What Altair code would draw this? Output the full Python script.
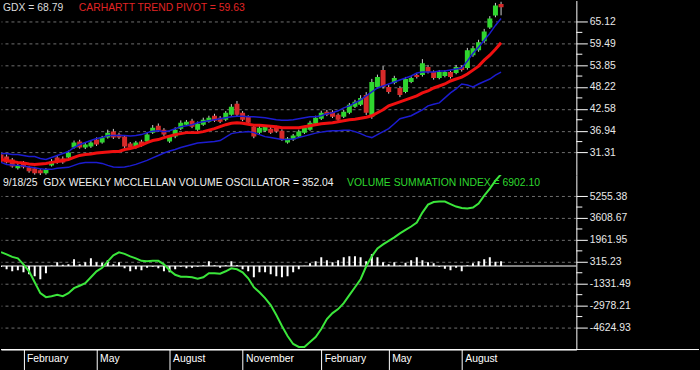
import json
import altair as alt
import pandas as pd

# ---------------- data (weekly, Jan 2024 - Sep 2025) ----------------
weeks = list(range(90))

opens = [30.81, 30.29, 29.52, 27.22, 28.76, 27.48, 27.22, 26.71, 25.94, 27.99,
         30.04, 29.78, 30.04, 32.60, 34.13, 32.60, 32.85, 34.65, 33.88, 35.16,
         36.70, 35.93, 35.41, 33.62, 32.60, 34.13, 34.13, 36.44, 38.23, 37.21,
         34.13, 35.41, 37.46, 38.49, 39.51, 37.21, 38.49, 39.26, 40.79, 40.28,
         39.77, 41.05, 43.87, 41.56, 40.54, 37.98, 36.44, 36.95, 37.46, 37.72,
         36.95, 33.88, 34.65, 35.41, 36.44, 37.21, 38.74, 40.02, 41.82, 41.82,
         41.05, 40.54, 41.56, 43.10, 43.61, 46.17, 40.54, 48.22, 52.57, 48.22,
         49.24, 47.96, 46.94, 49.50, 51.29, 51.29, 53.34, 52.06, 50.52, 51.04,
         52.06, 51.81, 53.34, 53.09, 56.42, 57.70, 60.00, 63.59, 66.66, 69.60]
highs = [31.3, 30.8, 29.9, 28.4, 29.1, 27.8, 27.6, 27.0, 27.3, 29.6,
         30.5, 30.3, 31.8, 34.4, 34.6, 33.8, 34.5, 35.2, 35.6, 37.2,
         37.4, 36.4, 35.8, 34.0, 34.3, 34.6, 36.4, 38.4, 38.8, 37.6,
         35.8, 37.8, 39.6, 39.7, 40.0, 39.3, 40.3, 40.8, 41.3, 40.7,
         42.0, 43.8, 44.6, 42.0, 40.9, 38.4, 38.2, 38.4, 37.9, 38.2,
         37.3, 35.3, 36.1, 37.2, 38.2, 39.5, 40.8, 42.1, 42.3, 42.2,
         41.4, 42.3, 44.1, 44.9, 46.1, 46.9, 50.3, 51.4, 53.6, 48.7,
         51.1, 48.4, 50.8, 51.0, 51.7, 55.4, 53.9, 52.5, 52.6, 52.5,
         52.4, 53.9, 53.8, 58.3, 58.8, 60.4, 63.2, 66.5, 69.9, 70.2]
lows = [28.7, 28.5, 27.4, 26.9, 27.2, 26.1, 25.6, 25.5, 25.6, 27.7,
        28.4, 28.4, 29.8, 32.3, 32.3, 32.2, 32.5, 33.0, 33.6, 34.9,
        34.8, 34.8, 32.5, 32.2, 32.3, 32.8, 33.8, 36.1, 36.6, 35.6,
        33.8, 35.0, 37.1, 38.2, 37.6, 36.9, 38.2, 39.0, 39.2, 38.9,
        39.4, 40.8, 40.7, 39.4, 38.6, 35.0, 36.1, 36.6, 36.1, 36.4,
        34.3, 33.6, 34.3, 35.1, 36.1, 36.9, 38.4, 39.7, 40.7, 40.2,
        39.4, 40.2, 41.2, 42.8, 43.3, 41.0, 40.0, 47.8, 47.8, 46.5,
        48.9, 45.6, 46.6, 49.2, 50.4, 50.9, 51.7, 50.1, 50.2, 50.7,
        50.4, 51.5, 52.2, 52.7, 56.0, 57.3, 59.6, 63.2, 66.2, 66.7]
closes = [29.01, 28.76, 27.73, 27.99, 27.48, 26.45, 25.94, 25.94, 26.96, 29.01,
          28.76, 28.76, 31.32, 33.88, 32.60, 33.37, 33.88, 33.37, 35.16, 36.44,
          35.16, 35.16, 32.85, 32.60, 33.88, 33.11, 35.93, 37.72, 36.95, 35.93,
          35.41, 37.21, 39.00, 39.26, 37.98, 38.74, 39.77, 40.28, 39.51, 39.26,
          41.56, 43.10, 41.05, 39.77, 39.00, 35.41, 37.72, 37.98, 36.44, 36.70,
          34.65, 34.90, 35.67, 36.70, 37.72, 39.00, 40.28, 41.56, 41.05, 40.54,
          39.77, 41.82, 43.61, 44.38, 45.40, 41.56, 49.50, 50.78, 48.22, 46.94,
          50.52, 46.17, 50.27, 50.52, 50.78, 54.37, 52.06, 50.52, 52.06, 52.06,
          50.78, 53.34, 52.57, 57.70, 58.21, 59.74, 62.56, 65.89, 69.22, 68.79]

trend_pivot = [29.52, 29.27, 29.01, 28.76, 28.63, 28.37, 28.24, 28.37, 28.50, 28.76,
               29.01, 29.27, 29.52, 30.04, 30.55, 30.81, 30.93, 31.19, 31.32, 31.44,
               31.57, 31.57, 32.09, 32.34, 32.73, 33.24, 33.88, 34.39, 34.65, 35.16,
               35.54, 35.93, 36.18, 36.44, 36.44, 36.44, 36.70, 37.08, 37.46, 37.98,
               38.49, 38.87, 39.00, 38.87, 38.62, 38.36, 38.36, 38.23, 38.10, 37.98,
               37.72, 37.72, 37.72, 37.72, 37.98, 38.23, 38.49, 38.74, 38.87, 39.00,
               39.26, 39.51, 39.77, 39.90, 40.15, 40.41, 40.79, 41.56, 42.33, 43.35,
               43.87, 44.38, 44.89, 45.40, 45.92, 46.68, 47.19, 47.96, 48.47, 48.99,
               49.76, 50.27, 50.78, 51.55, 52.57, 53.60, 55.13, 56.42, 57.95, 59.63]
upper_band = [31.06, 31.06, 30.81, 30.81, 30.55, 30.29, 30.29, 29.78, 29.52, 30.04,
              30.55, 31.06, 31.57, 32.60, 33.37, 33.88, 34.39, 34.90, 35.16, 35.67,
              35.67, 35.67, 35.67, 35.54, 35.67, 35.93, 36.44, 36.82, 36.95, 36.70,
              36.95, 37.46, 37.98, 38.23, 38.49, 39.00, 39.26, 39.51, 39.77, 40.02,
              40.28, 40.54, 40.66, 40.66, 40.54, 40.54, 40.41, 40.28, 40.02, 39.77,
              39.64, 39.64, 39.77, 40.02, 40.28, 40.54, 40.54, 40.79, 41.30, 41.56,
              42.07, 42.84, 43.35, 44.12, 44.89, 45.91, 46.94, 47.96, 48.47, 48.99,
              49.50, 50.01, 50.52, 51.04, 51.81, 52.06, 52.06, 52.06, 52.32, 52.32,
              52.57, 52.83, 53.09, 54.88, 56.93, 58.46, 60.26, 62.05, 64.10, 65.89]
lower_band = [28.76, 28.24, 28.11, 27.99, 27.86, 27.60, 27.35, 27.09, 26.96, 26.96,
              27.22, 27.35, 27.48, 27.99, 28.50, 28.76, 28.76, 28.76, 28.50, 27.99,
              27.60, 27.48, 27.60, 27.86, 28.24, 28.76, 29.27, 29.91, 30.55, 31.19,
              31.70, 32.09, 32.60, 32.98, 33.37, 33.75, 33.88, 34.01, 34.13, 34.39,
              35.29, 36.18, 36.44, 36.57, 36.70, 36.44, 35.93, 35.41, 35.16, 34.90,
              34.65, 34.65, 34.77, 35.16, 35.54, 35.93, 36.31, 36.57, 36.82, 36.95,
              36.95, 37.08, 37.08, 36.70, 36.18, 35.54, 35.16, 35.93, 36.70, 37.46,
              38.74, 40.02, 40.41, 40.79, 41.56, 42.33, 43.35, 43.74, 44.12, 45.40,
              46.68, 47.71, 48.99, 48.73, 48.22, 48.99, 49.63, 50.27, 51.29, 52.06]

volume_oscillator = [-75, -247, -397, -322, -472, -621, -771, -996, -546, 30,
                     277, 90, 127, 501, 127, 277, 576, 277, 240, 427,
                     127, 277, -172, -397, -247, -322, -135, -60, -172, -397,
                     -472, -247, -60, -172, -135, -60, 50, 352, 50, -135,
                     50, 352, 50, -247, -400, -846, -472, -472, -621, -771,
                     -846, -771, -472, -247, 20, 202, 352, 651, 427, 277,
                     427, 651, 726, 726, 651, 352, 876, 651, 277, 127,
                     277, 30, 240, 427, 651, 427, 277, 202, -60, -210,
                     -322, -135, -397, 50, 202, 352, 501, 651, 314, 352.04]
summation_index = [1048, 876, 689, 576, 127, -397, -1220, -2043, -2343, -2268,
                   -2156, -2268, -2043, -1669, -1482, -1295, -846, -397, -135, 352,
                   801, 1025, 913, 726, 576, 389, 352, 389, 389, 127,
                   -322, -659, -808, -808, -846, -958, -846, -546, -546, -584,
                   -397, -172, -247, -472, -921, -1594, -1969, -2418, -2942, -3690,
                   -4514, -5262, -5861, -6085, -6085, -5711, -5337, -4738, -3990, -3540,
                   -3241, -2792, -2193, -1594, -996, -20, 726, 1325, 1624, 1886,
                   2148, 2448, 2710, 2972, 3271, 4019, 4618, 4805, 4843, 4843,
                   4656, 4469, 4356, 4319, 4394, 4693, 5292, 5816, 6414, 6902.10]

month_weeks = [4, 17, 30, 43, 57, 69, 82]
month_names = ["February", "May", "August", "November", "February", "May", "August"]

price_ticks = [31.31, 36.94, 42.58, 48.22, 53.85, 59.49, 65.12]
osc_ticks = [-4624.93, -2978.21, -1331.49, 315.23, 1961.95, 3608.67, 5255.38]

title_price = "GDX = 68.79"
title_pivot = "CARHARTT TREND PIVOT = 59.63"
title_osc = "9/18/25\u00a0\u00a0GDX WEEKLY MCCLELLAN VOLUME OSCILLATOR = 352.04"
title_sum = "VOLUME SUMMATION INDEX = 6902.10"

# ---------------- tables ----------------
df = pd.DataFrame({
    "week": weeks, "open": opens, "high": highs, "low": lows, "close": closes,
    "pivot": trend_pivot, "upper": upper_band, "lower": lower_band,
    "osc": volume_oscillator, "vsum": summation_index,
})
df["zero"] = 0.0
price_minor = [(a + b) / 2 for a, b in zip(price_ticks[:-1], price_ticks[1:])]
osc_minor = [(a + b) / 2 for a, b in zip(osc_ticks[:-1], osc_ticks[1:])]

# ---------------- styling ----------------
FONT = "Liberation Sans"
FS = 10.4
W, H = 577, 175
GREEN = "#2fd62f"
RED = "#d62a2a"
BLUE = "#1c1cd0"
PIVOT_RED = "#f01010"
SUM_GREEN = "#3be63b"

xs = alt.Scale(domain=[0, 102.4], nice=False, zero=False, padding=0)
ps = alt.Scale(domain=[25.50, 70.52], nice=False, zero=False, padding=0)
oscs = alt.Scale(domain=[-6280, 6840], nice=False, zero=False, padding=0)

num_expr = "replace(format(datum.value, '.2f'), '\u2212', '-')"


def right_axis(vals):
    return alt.Axis(orient="right", values=vals, labelExpr=num_expr, title=None,
                    tickSize=11, tickColor="white", tickWidth=1,
                    domainColor="white", domainWidth=1,
                    labelColor="#e8e8e8", labelFont=FONT, labelFontSize=FS,
                    labelPadding=2, grid=True, gridColor="#6e6e6e",
                    gridDash=[3, 3], gridWidth=1)


price_axis = right_axis(price_ticks)
osc_axis = right_axis(osc_ticks)

month_expr = "{}[indexof({}, datum.value)]".format(json.dumps(month_names), json.dumps(month_weeks))
month_axis = alt.Axis(values=month_weeks, labelExpr=month_expr, title=None,
                      tickSize=20, tickColor="white", tickWidth=1,
                      domainColor="white", domainWidth=1,
                      labelColor="white", labelFont=FONT, labelFontSize=FS,
                      labelAlign="left", labelBaseline="alphabetic",
                      labelOffset=3, labelPadding=-8, labelFlush=False,
                      labelOverlap=False, grid=False)

one = pd.DataFrame({"k": [0]})


def label(text, color, x, y):
    return alt.Chart(pd.DataFrame({"t": [text]})).mark_text(
        align="left", baseline="alphabetic", font=FONT, fontSize=FS, color=color
    ).encode(x=alt.value(x), y=alt.value(y), text="t:N")


# ---------------- top panel ----------------
Xt = alt.X("week:Q", scale=xs, axis=None)
base = alt.Chart(df)
wicks = base.mark_rule(color="#d0d0d0", strokeWidth=1, clip=True).encode(
    x=Xt, y=alt.Y("low:Q", scale=ps, axis=price_axis), y2="high:Q")
bodies = base.mark_bar(size=5, clip=True).encode(
    x=Xt, y=alt.Y("open:Q", scale=ps, axis=price_axis), y2="close:Q",
    color=alt.condition("datum.close >= datum.open", alt.value(GREEN), alt.value(RED)))
lower_line = base.mark_line(color=BLUE, strokeWidth=1.5, clip=True).encode(
    x=Xt, y=alt.Y("lower:Q", scale=ps, axis=price_axis))
upper_line = base.mark_line(color=BLUE, strokeWidth=1.5, clip=True).encode(
    x=Xt, y=alt.Y("upper:Q", scale=ps, axis=price_axis))
pivot_line = base.mark_line(color=PIVOT_RED, strokeWidth=3, clip=True).encode(
    x=Xt, y=alt.Y("pivot:Q", scale=ps, axis=price_axis))
minor_top = alt.Chart(pd.DataFrame({"v": price_minor})).mark_rule(color="white", strokeWidth=1).encode(
    y=alt.Y("v:Q", scale=ps, axis=price_axis), x=alt.value(W), x2=alt.value(W + 6))

top = alt.layer(
    wicks, bodies, lower_line, upper_line, pivot_line, minor_top,
    label(title_price, "#dcdcdc", 2, 10),
    label(title_pivot, "#e02424", 78, 10),
).properties(width=W, height=H)

# ---------------- bottom panel ----------------
Xb = alt.X("week:Q", scale=xs, axis=month_axis)
zero_line = alt.Chart(pd.DataFrame({"v": [0]})).mark_rule(color="white", strokeWidth=1).encode(
    y=alt.Y("v:Q", scale=oscs, axis=osc_axis))
bars = base.mark_bar(size=2, color="white", clip=True).encode(
    x=Xb, y=alt.Y("osc:Q", scale=oscs, axis=osc_axis), y2="zero:Q")
sum_line = base.mark_line(color=SUM_GREEN, strokeWidth=2, clip=True).encode(
    x=Xb, y=alt.Y("vsum:Q", scale=oscs, axis=osc_axis))
minor_bot = alt.Chart(pd.DataFrame({"v": osc_minor})).mark_rule(color="white", strokeWidth=1).encode(
    y=alt.Y("v:Q", scale=oscs, axis=osc_axis), x=alt.value(W), x2=alt.value(W + 6))
base_rule = alt.Chart(one).mark_rule(color="white", strokeWidth=1).encode(
    x=alt.value(0), x2=alt.value(700), y=alt.value(H), y2=alt.value(H))

bottom = alt.layer(
    bars, zero_line, sum_line, minor_bot, base_rule,
    label(title_osc, "#f0f0f0", 2, 10.5),
    label(title_sum, "#2ed82e", 347, 10.5),
).properties(width=W, height=H)

chart = alt.vconcat(top, bottom, spacing=0).properties(
    background="black", padding=0
).configure_view(strokeWidth=0)

chart.save("out.html", embed_options={"renderer": "svg", "actions": False})
